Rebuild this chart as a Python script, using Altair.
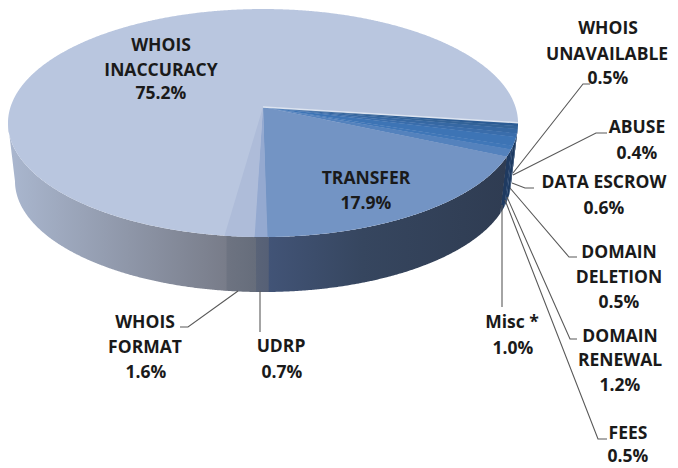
import math
import altair as alt
import pandas as pd

# Slices clockwise, beginning at the right-hand rim of the pie
SLICES = ["WHOIS UNAVAILABLE", "ABUSE", "DATA ESCROW", "DOMAIN DELETION", "DOMAIN RENEWAL",
          "FEES", "Misc", "TRANSFER", "UDRP", "WHOIS FORMAT", "WHOIS INACCURACY"]
SHARES = [0.5, 0.4, 0.6, 0.5, 1.2, 0.5, 1.0, 17.9, 0.7, 1.6, 75.2]
TOP_COLORS = ["#2c5c94", "#336398", "#3668a3", "#3a6dab", "#3d74b5", "#4077b8", "#5482bd",
              "#7394c4", "#94a9d0", "#aebcd9", "#b9c6df"]
WALL_COLORS = [("#23446d", "#23446d"), ("#213f66", "#213f66"), ("#1f3e68", "#1f3e68"),
               ("#1e3d66", "#1e3d66"), ("#1d3a60", "#1d3a60"), ("#23416b", "#23416b"),
               ("#1f3a60", "#1f3a60"), ("#425477", "#36465f", "#2f3c52"), ("#5a6478", "#566076"),
               ("#6e7482", "#666d7b"), ("#aab7cf", "#787c89")]

# Text of the data labels, one row per line of text
LABEL_TEXT = ["WHOIS", "INACCURACY", "75.2%", "TRANSFER", "17.9%", "WHOIS", "UNAVAILABLE", "0.5%",
              "ABUSE", "0.4%", "DATA ESCROW", "0.6%", "DOMAIN", "DELETION", "0.5%",
              "DOMAIN", "RENEWAL", "1.2%", "FEES", "0.5%", "Misc *", "1.0%",
              "WHOIS", "FORMAT", "1.6%", "UDRP", "0.7%"]
LABEL_X = [161, 161, 161, 366, 366, 608, 607, 608, 637, 637, 604, 604, 619, 619, 619,
           620, 620, 620, 628, 628, 512, 513, 145, 145, 146, 281, 282]
LABEL_Y = [46, 71, 94, 179, 204, 29, 55, 79, 128, 154, 183, 209, 253, 278, 303,
           337, 361, 386, 434, 457, 323, 349, 323, 348, 373, 347, 373]

# Leader lines of the small slices
LEADER_X = [[513, 583, 590], [513, 596, 607], [512, 525, 534], [510, 569, 577],
            [507, 570, 577], [505, 598, 607], [502, 502], [238, 188, 180], [260, 260]]
LEADER_Y = [[173, 84, 84], [175, 133, 133], [183, 188, 188], [188, 257, 257],
            [197, 339, 339], [200, 439, 439], [205, 307], [291, 327, 327], [291, 332]]

START_ANGLE = 97.9
APEX_X, APEX_Y = 263, 107
RX, RY, TILT = 252.5, 111.75, 0.1404
WALL_SCALE, WALL_APEX_Y = 0.9725, 165.6


def rim(theta, top=True):
    t = math.radians(theta)
    u, v = math.sin(t), -math.cos(t)
    w = 1 - TILT * v
    s, ay = (1.0, APEX_Y) if top else (WALL_SCALE, WALL_APEX_Y)
    return APEX_X + s * RX * u / w, ay + s * RY * v / w


def sweep(a, b, top=True):
    n = max(2, int(abs(b - a) * 2) + 1)
    return [rim(a + (b - a) * i / (n - 1), top) for i in range(n)]


def sections(poly):
    """Cut a polygon into vertical sections, so that an area mark can fill it."""
    xs = sorted({round(p[0], 2) for p in poly})
    lo, hi = xs[0], xs[-1]
    xs = [lo + 1e-3] + [x for x in xs if lo < x < hi] + [hi - 1e-3]
    rows = []
    for x in xs:
        ys = []
        for (x1, y1), (x2, y2) in zip(poly, poly[1:] + poly[:1]):
            if (x1 <= x < x2) or (x2 <= x < x1):
                ys.append(y1 + (y2 - y1) * (x - x1) / (x2 - x1))
        if len(ys) >= 2:
            rows.append({"x": x, "y": min(ys), "y2": max(ys)})
    return pd.DataFrame(rows)


X = alt.X("x:Q", axis=None, scale=alt.Scale(domain=[8, 670], zero=False, nice=False))
Y = alt.Y("y:Q", axis=None, scale=alt.Scale(domain=[468, 8], zero=False, nice=False))

layers = []


def fill(poly, color):
    layers.append(alt.Chart(sections(poly)).mark_area(color=color, opacity=1, interpolate="linear")
                  .encode(x=X, y=Y, y2="y2:Q"))


edges = [START_ANGLE]
for share in SHARES:
    edges.append(edges[-1] + share * 3.6)

FRONT_LEFT = 261.9   # where the rim's silhouette turns to the back

# Side wall
for i, colors in enumerate(WALL_COLORS):
    a, b = edges[i] - (0.4 if i else 0), min(edges[i + 1], FRONT_LEFT)
    poly = sweep(a, b, True) + sweep(b, a, False)
    grad = alt.Gradient(gradient="linear", x1=0, x2=1, y1=0, y2=0,
                        stops=[alt.GradientStop(color=c, offset=n / (len(colors) - 1) if len(colors) == 2 else [0, 0.4, 1][n])
                               for n, c in enumerate(colors)])
    fill(poly, grad)

# Top surface: the full disc in the largest slice's colour, other slices over it
fill(sweep(0, 360, True)[:-1], TOP_COLORS[-1])
for i in range(len(SLICES) - 1):
    fill([(APEX_X, APEX_Y)] + sweep(edges[i] - (0.15 if i else 0), edges[i + 1], True), TOP_COLORS[i])

# Light edge where the big slice meets the small ones
ex, ey = rim(edges[0])
edge_df = pd.DataFrame({"x": [APEX_X, ex], "y": [APEX_Y, ey]})
layers.append(alt.Chart(edge_df).mark_line(color="#dde4f0", strokeWidth=1.5).encode(x=X, y=Y))

# Leader lines
rows = []
for k, (lx, ly) in enumerate(zip(LEADER_X, LEADER_Y)):
    for j, (px, py) in enumerate(zip(lx, ly)):
        rows.append({"x": px, "y": py, "k": k, "j": j})
layers.append(alt.Chart(pd.DataFrame(rows)).mark_line(color="#595959", strokeWidth=1.1)
              .encode(x=X, y=Y, detail="k:N", order="j:Q"))

# Labels
labels = pd.DataFrame({"x": LABEL_X, "y": LABEL_Y, "t": LABEL_TEXT})
layers.append(alt.Chart(labels).mark_text(font="Open Sans", fontWeight="bold", fontSize=17.5,
                                          color="#1a1a1a", align="center", baseline="middle")
              .encode(x=X, y=Y, text="t:N"))

chart = alt.layer(*layers).properties(
    width=662, height=460, padding=0,
    autosize=alt.AutoSizeParams(type="none"),
    background="#ffffff",
).configure_view(stroke=None)

chart.save("out.html", embed_options={"renderer": "svg", "actions": False})
